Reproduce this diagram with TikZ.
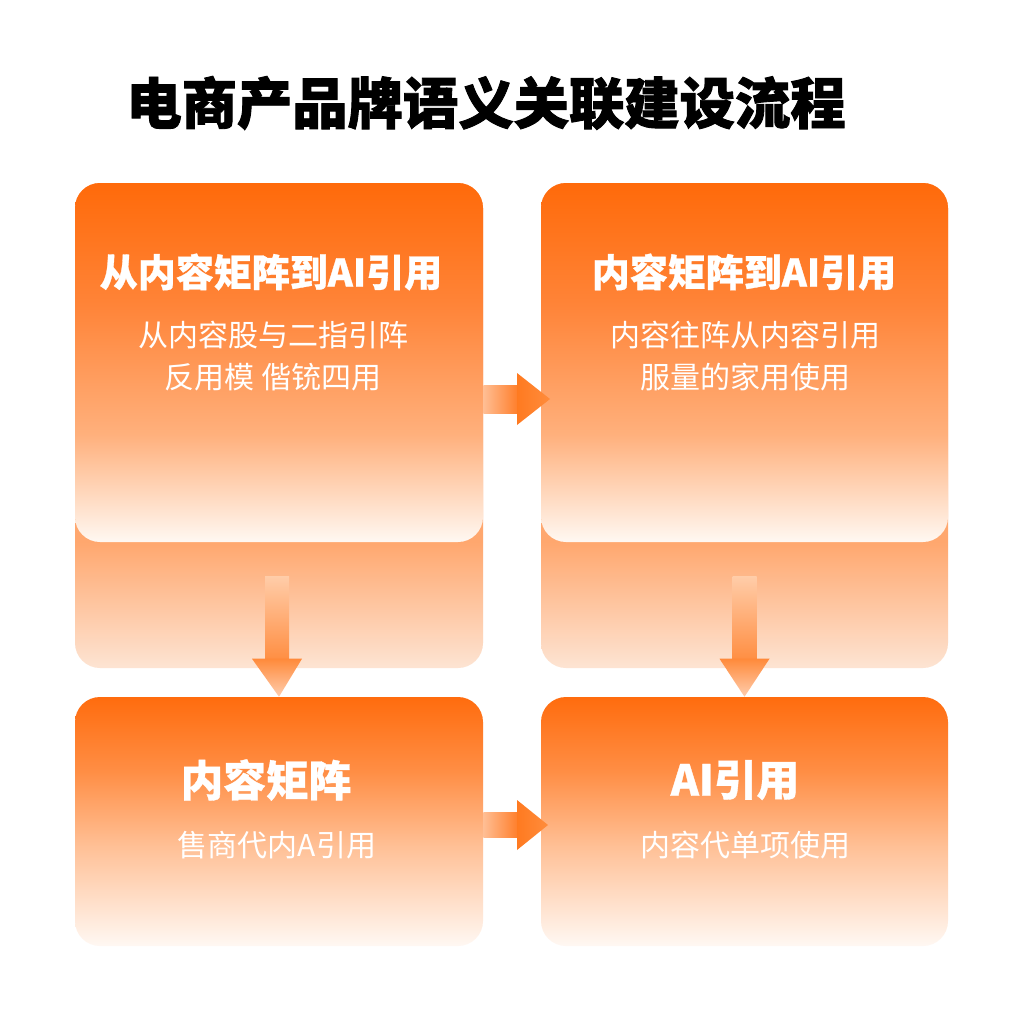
\documentclass[tikz,border=0pt]{standalone}
\usepackage{fontspec}
\newfontfamily\cjk{Noto Sans CJK SC}
\newfontfamily\cjkheavy{Noto Sans CJK SC}[BoldFeatures={FakeBold=1.6}]
\newfontfamily\cjkmid{Noto Sans CJK SC}[BoldFeatures={FakeBold=0.8}]
\usetikzlibrary{calc}
\definecolor{fcT}{HTML}{FF6A0A}
\definecolor{fc1}{HTML}{FF8438}
\definecolor{fc2}{HTML}{FFB07C}
\definecolor{fcB}{HTML}{FFF8F2}
\definecolor{bcT}{HTML}{FFA76E}
\definecolor{bcB}{HTML}{FDE4D3}
\definecolor{btT}{HTML}{FF6C0E}
\definecolor{bt1}{HTML}{FF8E45}
\definecolor{bt2}{HTML}{FFC096}
\definecolor{btB}{HTML}{FFF8F3}
\definecolor{arS}{HTML}{FFBE94}
\definecolor{arE}{HTML}{FF7E2A}
\definecolor{arH}{HTML}{FF7A20}
\definecolor{arH2}{HTML}{FF8C3C}
\definecolor{dsT}{HTML}{FFCCA8}
\definecolor{dsB}{HTML}{FF8E42}
\definecolor{dhT}{HTML}{FF8A3A}
\definecolor{dhB}{HTML}{FFCDAE}
\pgfdeclareverticalshading{frontcard}{100bp}{color(0bp)=(fcB); color(25bp)=(fcB); color(40bp)=(fc2); color(58bp)=(fc1); color(75bp)=(fcT); color(100bp)=(fcT)}
\pgfdeclareverticalshading{backcard}{100bp}{color(0bp)=(bcB); color(25bp)=(bcB); color(38bp)=(bcT); color(75bp)=(bcT); color(100bp)=(bcT)}
\pgfdeclareverticalshading{botcard}{100bp}{color(0bp)=(btB); color(25bp)=(btB); color(45bp)=(bt2); color(60bp)=(bt1); color(75bp)=(btT); color(100bp)=(btT)}
\begin{document}
\begin{tikzpicture}[x=0.75pt,y=-0.75pt,
  card/.style={shade, rounded corners=18.75pt, inner sep=0pt, draw=none},
  ttl/.style={text=white, font=\cjkmid\bfseries\fontsize{28.5}{33}\selectfont},
  bttl/.style={text=white, font=\cjkmid\bfseries\fontsize{32}{36}\selectfont},
  sub/.style={text=white, font=\cjk\fontsize{22.5}{31.5}\selectfont, align=center},
]
\fill[white] (0,0) rectangle (1024,1024);
\useasboundingbox (0,0) rectangle (1024,1024);
\node[font=\cjkheavy\bfseries\fontsize{41.5}{48}\selectfont] (title) at (486,103) {电商产品牌语义关联建设流程};

% cards
\node[card, shading=backcard, minimum width=306pt, minimum height=363.75pt] (lback) at (279,425.5) {};
\node[card, shading=frontcard, minimum width=306pt, minimum height=269.25pt] (lfront) at (279,362.5) {};
\node[card, shading=backcard, minimum width=305.25pt, minimum height=363.75pt] (rback) at (744.5,425.5) {};
\node[card, shading=frontcard, minimum width=305.25pt, minimum height=269.25pt] (rfront) at (744.5,362.5) {};
\node[card, shading=botcard, minimum width=306pt, minimum height=186.75pt] (lb) at (279,821.5) {};
\node[card, shading=botcard, minimum width=305.25pt, minimum height=186.75pt] (rb) at (744.5,821.5) {};

% texts
\node[ttl] (t1) at (271,272) {从内容矩阵到AI引用};
\node[sub] (s1) at (273,356) {从内容股与二指引阵\\反用模 偕铳四用};
\node[ttl] (t2) at (744,272) {内容矩阵到AI引用};
\node[sub] (s2) at (745,356) {内容往阵从内容引用\\服量的家用使用};
\node[bttl] (t3) at (266,780) {内容矩阵};
\node[sub] (s3) at (277,845) {售商代内A引用};
\node[bttl] (t4) at (735,780) {AI引用};
\node[sub] (s4) at (745,845) {内容代单项使用};

% down arrows
\shade[top color=dsT, bottom color=dsB] ($(lb.north)+(-14,-120)$) rectangle ($(lb.north)+(10,-37)$);
\shade[top color=dhT, bottom color=dhB] ($(lb.north)+(-27,-38)$) -- ($(lb.north)+(23,-38)$) -- (lb.north) -- cycle;
\shade[top color=dsT, bottom color=dsB] ($(rb.north)+(-12,-120)$) rectangle ($(rb.north)+(12,-37)$);
\shade[top color=dhT, bottom color=dhB] ($(rb.north)+(-25,-38)$) -- ($(rb.north)+(25,-38)$) -- (rb.north) -- cycle;

% right arrows
\coordinate (r1t) at (550,399);
\shade[left color=arS, right color=arE] ($(lfront.east)+(0,22.5)$) rectangle ($(r1t)+(-32,14)$);
\shade[left color=arH, right color=arH2] ($(r1t)+(-33,-26)$) -- (r1t) -- ($(r1t)+(-33,26)$) -- cycle;
\coordinate (r2t) at (548,825);
\shade[left color=arS, right color=arE] ($(lb.east)+(0,-9.5)$) rectangle ($(r2t)+(-30,12.5)$);
\shade[left color=arH, right color=arH2] ($(r2t)+(-31,-25)$) -- (r2t) -- ($(r2t)+(-31,25)$) -- cycle;
\end{tikzpicture}
\end{document}
